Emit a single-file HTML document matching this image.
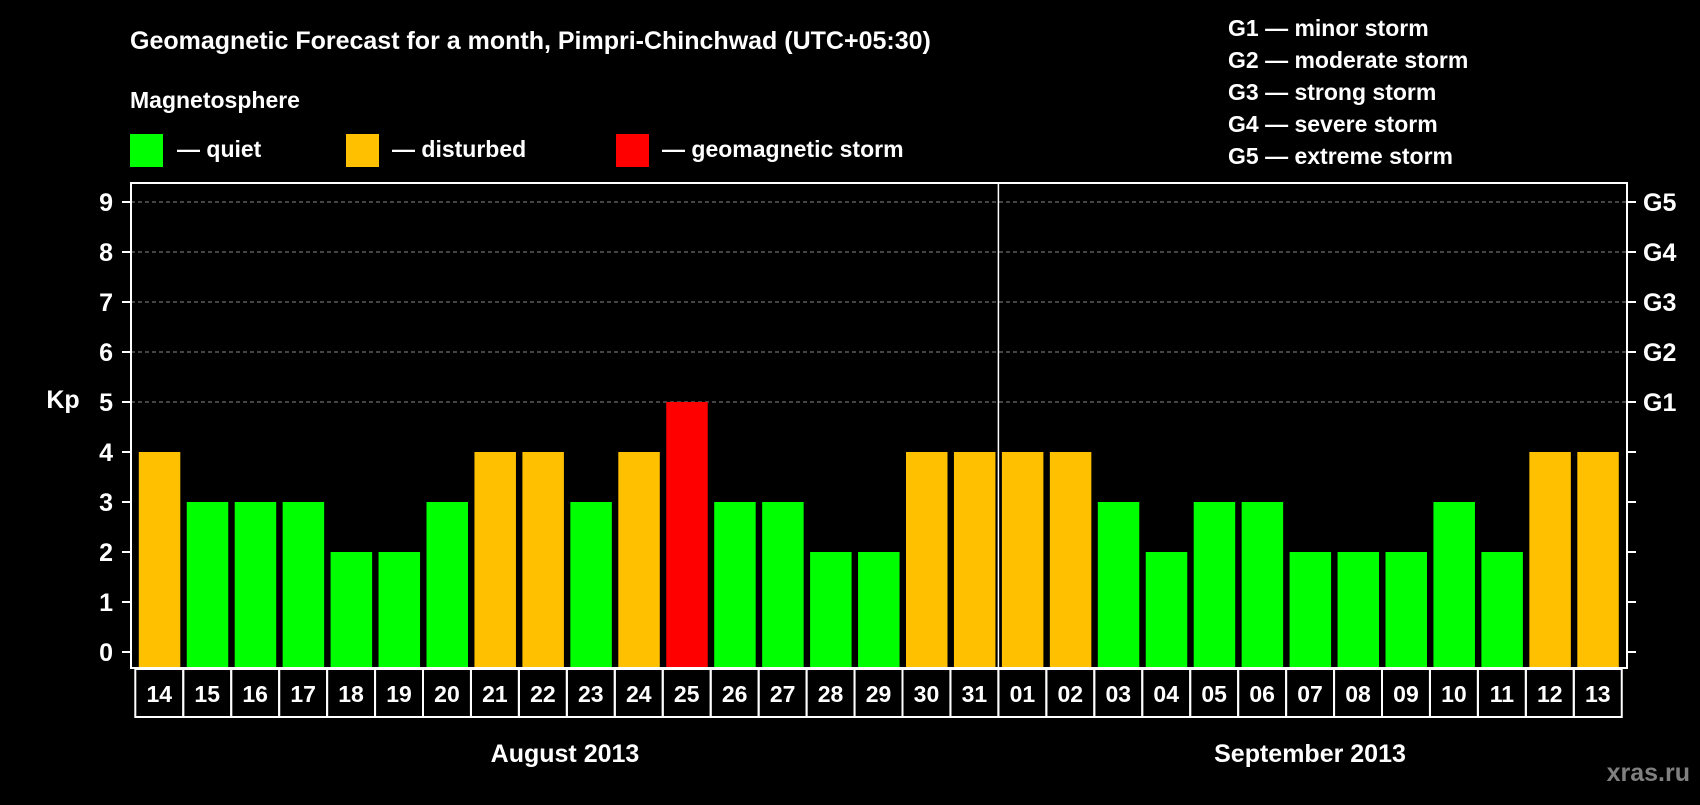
<!DOCTYPE html>
<html><head><meta charset="utf-8"><style>
body{margin:0;background:#000;width:1700px;height:800px;overflow:hidden}
svg text{font-family:"Liberation Sans",Arial,sans-serif;font-weight:bold;fill:#fff}
</style></head><body>
<svg id="chart" width="1700" height="800" xmlns="http://www.w3.org/2000/svg">
<text x="130" y="49" font-size="25">Geomagnetic Forecast for a month, Pimpri-Chinchwad (UTC+05:30)</text>
<text x="130" y="108" font-size="23">Magnetosphere</text>
<rect x="130" y="134" width="33" height="33" fill="#00ff00"/>
<text x="177" y="157" font-size="23">— quiet</text>
<rect x="346" y="134" width="33" height="33" fill="#ffc000"/>
<text x="392" y="157" font-size="23">— disturbed</text>
<rect x="616" y="134" width="33" height="33" fill="#ff0000"/>
<text x="662" y="157" font-size="23">— geomagnetic storm</text>
<g font-size="23">
<text x="1228" y="36">G1 — minor storm</text>
<text x="1228" y="68">G2 — moderate storm</text>
<text x="1228" y="100">G3 — strong storm</text>
<text x="1228" y="132">G4 — severe storm</text>
<text x="1228" y="164">G5 — extreme storm</text>
</g>
<text x="63" y="408" font-size="25" text-anchor="middle">Kp</text>
<g id="grid"></g><g id="bars"></g><g id="axes"></g>
<text x="565" y="762" font-size="25" text-anchor="middle">August 2013</text>
<text x="1310" y="762" font-size="25" text-anchor="middle">September 2013</text>
<text x="1690" y="781" font-size="25" text-anchor="end" style="fill:#808080">xras.ru</text>
</svg>
<script>
const days=["14","15","16","17","18","19","20","21","22","23","24","25","26","27","28","29","30","31","01","02","03","04","05","06","07","08","09","10","11","12","13"];
const kp=[4,3,3,3,2,2,3,4,4,3,4,5,3,3,2,2,4,4,4,4,3,2,3,3,2,2,2,3,2,4,4];
const yTicks=[0,1,2,3,4,5,6,7,8,9];
const gLabels=["G1","G2","G3","G4","G5"];
const NS="http://www.w3.org/2000/svg";
const L=131,R=1627,T=183,B=668,pitch=47.95,bw=41.5,x0=138.8;
const y=v=>652-v*50;
const x=i=>x0+i*pitch;
function mk(t,a,p){const e=document.createElementNS(NS,t);for(const k in a)e.setAttribute(k,a[k]);p.appendChild(e);return e;}
const grid=document.getElementById('grid'),bars=document.getElementById('bars'),axes=document.getElementById('axes');
yTicks.forEach(v=>{
  if(v>=5){const g=mk('line',{x1:L,x2:R,y1:y(v),y2:y(v),stroke:'#888','stroke-dasharray':'4,3','stroke-width':1},grid);
  
  }
  const t=mk('text',{x:113,y:y(v)+9,'font-size':25,'text-anchor':'end'},axes);t.textContent=v;
  
  
  mk('line',{x1:L-9,x2:L,y1:y(v),y2:y(v),stroke:'#fff','stroke-width':2},axes);
  mk('line',{x1:R,x2:R+9,y1:y(v),y2:y(v),stroke:'#fff','stroke-width':2},axes);
});
gLabels.forEach((g,i)=>{const t=mk('text',{x:1643,y:y(i+5)+9,'font-size':25},axes);t.textContent=g;
  
  });
kp.forEach((v,i)=>{
  const c=v>=5?'#ff0000':(v>=4?'#ffc000':'#00ff00');
  const r=mk('rect',{x:x(i),y:y(v),width:bw,height:B-y(v),fill:c},bars);
  
  
  const bx=x0-3.5+i*pitch;
  const b=mk('rect',{x:bx,y:B+1,width:pitch,height:48,fill:'none',stroke:'#fff','stroke-width':2},axes);
  
  
  const t=mk('text',{x:bx+pitch/2,y:B+34,'font-size':23,'text-anchor':'middle'},axes);t.textContent=days[i];
  
  
});
const f=mk('rect',{x:L,y:T,width:R-L,height:B-T,fill:'none',stroke:'#fff','stroke-width':2},axes);


const d=mk('line',{x1:x0+18*pitch-3.5,x2:x0+18*pitch-3.5,y1:T,y2:B,stroke:'#fff','stroke-width':1.5},axes);


</script>
</body></html>
